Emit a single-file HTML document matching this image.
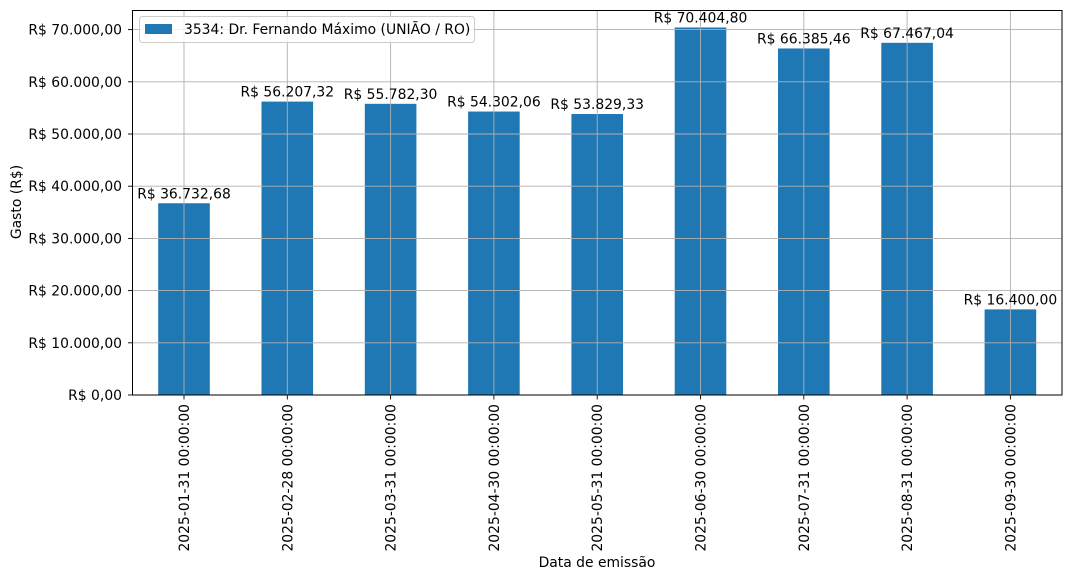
<!DOCTYPE html>
<html><head><meta charset="utf-8"><style>body{margin:0;background:#fff}svg{display:block}text{font-family:"DejaVu Sans","Liberation Sans",sans-serif;font-size:13.9px;fill:#000}</style></head>
<body>
<svg width="1072" height="580" viewBox="0 0 1072 580">
<g id="bars" fill="#1f77b4"></g>
<g id="grid" stroke="#b0b0b0" stroke-width="0.9"></g>
<rect x="132.5" y="10.5" width="929.5" height="384.5" fill="none" stroke="#000" stroke-width="1"/>
<g id="lab"></g>
<text x="597" y="567" text-anchor="middle">Data de emissão</text>
<text transform="translate(21,202) rotate(-90)" text-anchor="middle">Gasto (R$)</text>
<rect x="139.5" y="16.5" width="335" height="26" rx="3" fill="#fff" fill-opacity="0.8" stroke="#ccc"/>
<rect x="145" y="24" width="27" height="10" fill="#1f77b4"/>
<text x="184" y="34">3534: Dr. Fernando Máximo (UNIÃO / RO)</text>
</svg>
<script>
const ns="http://www.w3.org/2000/svg";
const vals=[36732.68,56207.32,55782.30,54302.06,53829.33,70404.80,66385.46,67467.04,16400.00];
const dates=["2025-01-31","2025-02-28","2025-03-31","2025-04-30","2025-05-31","2025-06-30","2025-07-31","2025-08-31","2025-09-30"];
const y0=395,k=0.00522;
function el(p,t,a,txt){const e=document.createElementNS(ns,t);for(const x in a)e.setAttribute(x,a[x]);if(txt!=null)e.textContent=txt;document.getElementById(p).appendChild(e);return e;}
function fmt(v){let [i,d]=v.toFixed(2).split('.');i=i.replace(/\B(?=(\d{3})+(?!\d))/g,'.');return 'R$ '+i+','+d;}
for(let j=0;j<=7;j++){const y=y0-j*10000*k;el('grid','line',{x1:132.5,x2:1062,y1:y,y2:y});el('grid','line',{x1:128,x2:132.5,y1:y,y2:y,stroke:'#000'});el('lab','text',{x:122,y:y+5,'text-anchor':'end'},fmt(j*10000));}
vals.forEach((v,i)=>{const cx=184+i*103.3;const h=v*k;el('bars','rect',{x:cx-25.8,y:y0-h,width:51.6,height:h});el('grid','line',{x1:cx,x2:cx,y1:10.5,y2:395});el('grid','line',{x1:cx,x2:cx,y1:395,y2:399.5,stroke:'#000'});el('lab','text',{x:cx,y:y0-h-5,'text-anchor':'middle'},fmt(v));el('lab','text',{transform:`translate(${cx+5},404) rotate(-90)`,'text-anchor':'end'},dates[i]+' 00:00:00');});
</script>
</body></html>
